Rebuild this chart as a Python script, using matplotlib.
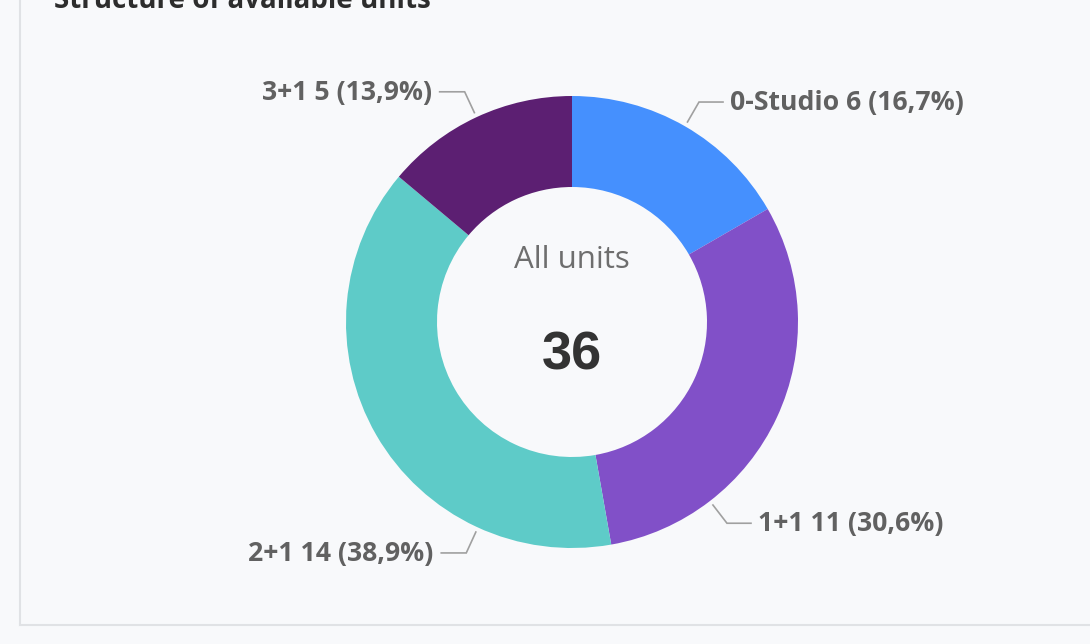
import numpy as np
import matplotlib
matplotlib.use("Agg")
import matplotlib.pyplot as plt

categories = ["0-Studio", "1+1", "2+1", "3+1"]
values = [6, 11, 14, 5]
colors = ["#4590fe", "#8150c8", "#5ecbc8", "#5c1f72"]
title = "Structure of available units"
center_label = "All units"

W, H = 1090, 644
BG = "#f8f9fb"
fig = plt.figure(figsize=(W / 100, H / 100), dpi=100, facecolor=BG)
ax = fig.add_axes([0, 0, 1, 1])
ax.axis("off")
ax.set_facecolor(BG)

def Y(y):
    return H - y

cx, cy = 572, Y(322)
R_out, R_in = 226, 135

ax.pie(values, colors=colors, startangle=90, counterclock=False,
       center=(cx, cy), radius=R_out,
       wedgeprops=dict(width=R_out - R_in, linewidth=0))
ax.set_xlim(0, W)
ax.set_ylim(0, H)
ax.set_aspect("equal")

total = sum(values)
# label anchor angles (clockwise degrees from top) as laid out in the reference
label_angles = [30.0, 142.4, 204.6, 335.0]
for cat, v, a in zip(categories, values, label_angles):
    th = np.deg2rad(90 - a)
    x0, y0 = cx + 231 * np.cos(th), cy + 231 * np.sin(th)
    x1, y1 = cx + 254 * np.cos(th), cy + 254 * np.sin(th)
    right = np.cos(th) > 0
    x2 = x1 + (24 if right else -25)
    ax.plot([x0, x1, x2], [y0, y1, y1], color="#a0a0a0", lw=1.2,
            solid_joinstyle="miter", zorder=3)
    pct = f"{v / total * 100:.1f}".replace(".", ",")
    txt = f"{cat} {v} ({pct}%)"
    ax.text(x2 + (7 if right else -8), y1 - 1, txt, ha="left" if right else "right",
            va="center", fontsize=19.2, fontweight="bold", family="Open Sans",
            color="#616161")

ax.text(cx, Y(260), center_label, ha="center", va="center", fontsize=22.5,
        family="Open Sans", color="#6e6e6e")
ax.text(cx, Y(355), str(total), ha="center", va="center", fontsize=39,
        fontweight="bold", family="Liberation Sans", color="#333333")

# card border
ax.plot([20, 20], [H + 5, Y(625)], color="#e0e2e5", lw=1.5, zorder=1)
ax.plot([20, W + 5], [Y(625), Y(625)], color="#e0e2e5", lw=1.5, zorder=1)

# title (partially cut at top, as in the reference)
ax.text(54, Y(8), title, ha="left", va="baseline", fontsize=20,
        fontweight="bold", family="Open Sans", color="#2d2d2d")

fig.savefig("out.png", dpi=100, facecolor=BG)
